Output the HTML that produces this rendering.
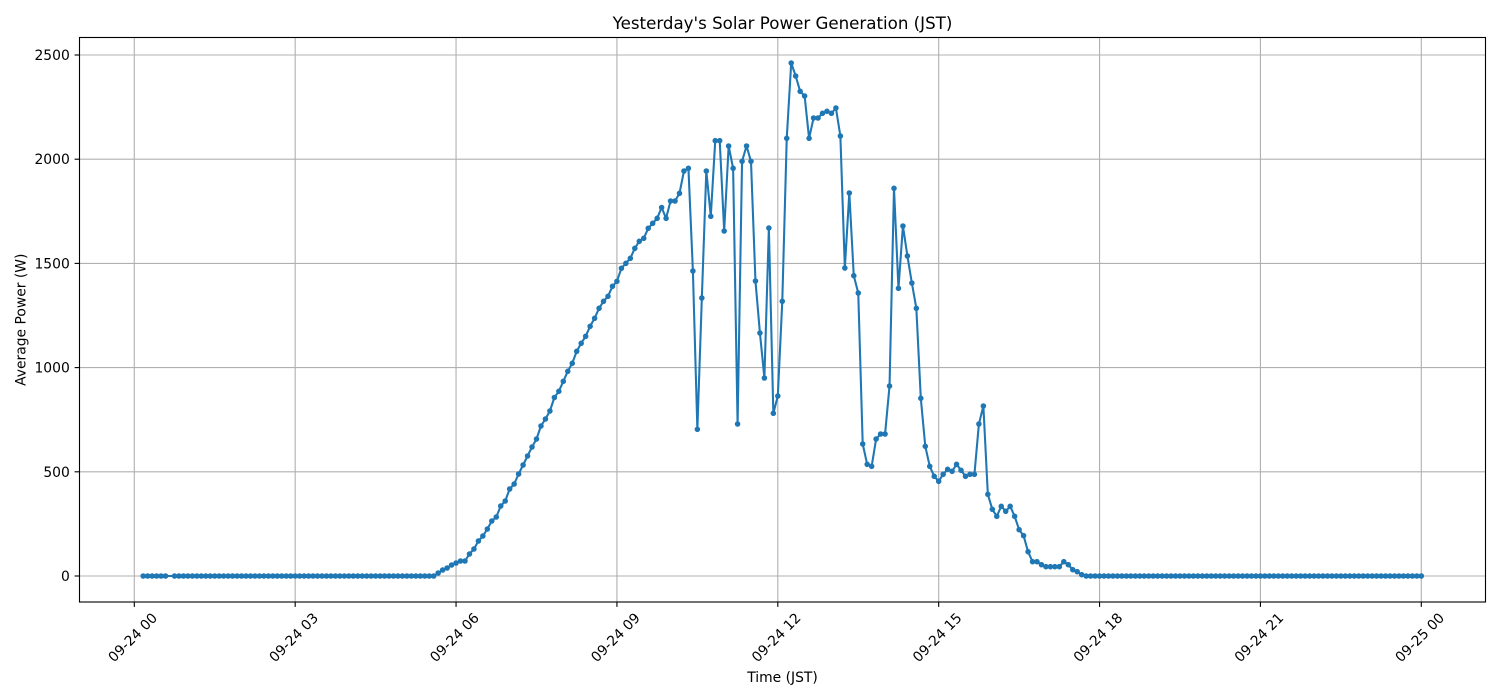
<!DOCTYPE html>
<html>
<head>
<meta charset="utf-8">
<style>
html,body{margin:0;padding:0;background:#fff;}
svg{display:block;}
text{font-family:"DejaVu Sans","Liberation Sans",sans-serif;fill:#000;}
</style>
</head>
<body>
<svg width="1500" height="700" viewBox="0 0 1500 700" xmlns="http://www.w3.org/2000/svg">
<defs>
<marker id="m" markerUnits="userSpaceOnUse" markerWidth="8" markerHeight="8" refX="4" refY="4" viewBox="0 0 8 8" overflow="visible">
<circle cx="4" cy="4" r="2.08" fill="#1f77b4" stroke="#1f77b4" stroke-width="1.39"/>
</marker>
</defs>
<rect x="0" y="0" width="1500" height="700" fill="#fff"/>
<rect x="79.5" y="37.5" width="1406" height="564.5" fill="#fff"/>

<!-- grid -->
<g stroke="#b0b0b0" stroke-width="1.11" fill="none">
<line x1="134.3" y1="37.5" x2="134.3" y2="602"/>
<line x1="295.18" y1="37.5" x2="295.18" y2="602"/>
<line x1="456.05" y1="37.5" x2="456.05" y2="602"/>
<line x1="616.93" y1="37.5" x2="616.93" y2="602"/>
<line x1="777.8" y1="37.5" x2="777.8" y2="602"/>
<line x1="938.68" y1="37.5" x2="938.68" y2="602"/>
<line x1="1099.55" y1="37.5" x2="1099.55" y2="602"/>
<line x1="1260.43" y1="37.5" x2="1260.43" y2="602"/>
<line x1="1421.3" y1="37.5" x2="1421.3" y2="602"/>
<line x1="79.5" y1="576" x2="1485.5" y2="576"/>
<line x1="79.5" y1="471.8" x2="1485.5" y2="471.8"/>
<line x1="79.5" y1="367.6" x2="1485.5" y2="367.6"/>
<line x1="79.5" y1="263.4" x2="1485.5" y2="263.4"/>
<line x1="79.5" y1="159.2" x2="1485.5" y2="159.2"/>
<line x1="79.5" y1="55" x2="1485.5" y2="55"/>
</g>

<!-- data line -->
<polyline fill="none" stroke="#1f77b4" stroke-width="2.08" stroke-linejoin="round" stroke-linecap="round" points="143.2,576 433.71,576 438.18,573 442.65,570 447.12,568 451.58,565 456.05,563 460.52,561 464.99,561 469.46,554 473.93,549 478.40,541 482.87,536 487.34,529 491.80,521 496.27,517 500.74,506 505.21,501 509.68,489 514.15,484 518.62,474 523.09,465 527.55,456 532.02,447 536.49,439 540.96,426 545.43,419 549.90,411 554.37,397.5 558.84,391.3 563.30,381.3 567.77,371.3 572.24,363.3 576.71,351.3 581.18,343.3 585.65,336.3 590.12,326.3 594.59,318.3 599.06,308.3 603.52,301.3 607.99,296.3 612.46,286.3 616.93,281.3 621.40,268.3 625.87,263.3 630.34,258.3 634.81,248.3 639.27,241.3 643.74,238.3 648.21,228.3 652.68,223.3 657.15,218.3 661.62,207.5 666.09,218.3 670.56,201 675.02,201 679.49,193.3 683.96,171 688.43,168.3 692.90,271 697.37,429.3 701.84,298 706.31,171 710.78,216.3 715.24,140.7 719.71,140.7 724.18,231 728.65,146 733.12,168.3 737.59,424 742.06,161.3 746.53,146 750.99,161.3 755.46,281 759.93,333 764.40,378 768.87,228 773.34,413.3 777.81,396 782.28,301.3 786.74,138.3 791.21,63 795.68,76 800.15,91.3 804.62,96 809.09,138.3 813.56,118 818.03,118 822.50,113.3 826.96,111.3 831.43,113.3 835.90,108 840.37,136 844.84,268 849.31,193 853.78,275.7 858.25,293 862.71,444 867.18,464.3 871.65,466.3 876.12,439 880.59,434 885.06,434 889.53,386 894.00,188.3 898.46,288.3 902.93,226 907.40,256 911.87,283 916.34,308.3 920.81,398.3 925.28,446.3 929.75,466.3 934.22,476.3 938.68,481.3 943.15,474.3 947.62,469.3 952.09,471.3 956.56,464.3 961.03,470.3 965.50,476.3 969.97,474.3 974.43,474.3 978.90,424 983.37,406 987.84,494.3 992.31,509.3 996.78,516.3 1001.25,506.3 1005.72,511.3 1010.18,506.3 1014.65,516.3 1019.12,529.7 1023.59,535.7 1028.06,551.7 1032.53,561.7 1037.00,561.7 1041.47,564.7 1045.94,566.7 1050.40,566.7 1054.87,566.7 1059.34,566.7 1063.81,561.7 1068.28,564.7 1072.75,569.7 1077.22,571.7 1081.69,574.7 1086.15,576 1421.3,576"/>

<!-- markers for active region -->
<polyline fill="none" stroke="none" marker-start="url(#m)" marker-mid="url(#m)" marker-end="url(#m)" points="438.18,573 442.65,570 447.12,568 451.58,565 456.05,563 460.52,561 464.99,561 469.46,554 473.93,549 478.40,541 482.87,536 487.34,529 491.80,521 496.27,517 500.74,506 505.21,501 509.68,489 514.15,484 518.62,474 523.09,465 527.55,456 532.02,447 536.49,439 540.96,426 545.43,419 549.90,411 554.37,397.5 558.84,391.3 563.30,381.3 567.77,371.3 572.24,363.3 576.71,351.3 581.18,343.3 585.65,336.3 590.12,326.3 594.59,318.3 599.06,308.3 603.52,301.3 607.99,296.3 612.46,286.3 616.93,281.3 621.40,268.3 625.87,263.3 630.34,258.3 634.81,248.3 639.27,241.3 643.74,238.3 648.21,228.3 652.68,223.3 657.15,218.3 661.62,207.5 666.09,218.3 670.56,201 675.02,201 679.49,193.3 683.96,171 688.43,168.3 692.90,271 697.37,429.3 701.84,298 706.31,171 710.78,216.3 715.24,140.7 719.71,140.7 724.18,231 728.65,146 733.12,168.3 737.59,424 742.06,161.3 746.53,146 750.99,161.3 755.46,281 759.93,333 764.40,378 768.87,228 773.34,413.3 777.81,396 782.28,301.3 786.74,138.3 791.21,63 795.68,76 800.15,91.3 804.62,96 809.09,138.3 813.56,118 818.03,118 822.50,113.3 826.96,111.3 831.43,113.3 835.90,108 840.37,136 844.84,268 849.31,193 853.78,275.7 858.25,293 862.71,444 867.18,464.3 871.65,466.3 876.12,439 880.59,434 885.06,434 889.53,386 894.00,188.3 898.46,288.3 902.93,226 907.40,256 911.87,283 916.34,308.3 920.81,398.3 925.28,446.3 929.75,466.3 934.22,476.3 938.68,481.3 943.15,474.3 947.62,469.3 952.09,471.3 956.56,464.3 961.03,470.3 965.50,476.3 969.97,474.3 974.43,474.3 978.90,424 983.37,406 987.84,494.3 992.31,509.3 996.78,516.3 1001.25,506.3 1005.72,511.3 1010.18,506.3 1014.65,516.3 1019.12,529.7 1023.59,535.7 1028.06,551.7 1032.53,561.7 1037.00,561.7 1041.47,564.7 1045.94,566.7 1050.40,566.7 1054.87,566.7 1059.34,566.7 1063.81,561.7 1068.28,564.7 1072.75,569.7 1077.22,571.7 1081.69,574.7"/>

<!-- markers for zero runs (dotted) -->
<g stroke="#1f77b4" stroke-width="5.55" stroke-linecap="round" stroke-dasharray="0 4.4688" fill="none">
<line x1="143.2" y1="576" x2="165.74" y2="576"/>
<line x1="174.52" y1="576" x2="433.91" y2="576"/>
<line x1="1086.15" y1="576" x2="1421.5" y2="576"/>
</g>

<!-- spines -->
<rect x="79.5" y="37.5" width="1406" height="564.5" fill="none" stroke="#000" stroke-width="1.11"/>

<!-- ticks -->
<g stroke="#000" stroke-width="1.11">
<line x1="134.3" y1="602" x2="134.3" y2="606.9"/>
<line x1="295.18" y1="602" x2="295.18" y2="606.9"/>
<line x1="456.05" y1="602" x2="456.05" y2="606.9"/>
<line x1="616.93" y1="602" x2="616.93" y2="606.9"/>
<line x1="777.8" y1="602" x2="777.8" y2="606.9"/>
<line x1="938.68" y1="602" x2="938.68" y2="606.9"/>
<line x1="1099.55" y1="602" x2="1099.55" y2="606.9"/>
<line x1="1260.43" y1="602" x2="1260.43" y2="606.9"/>
<line x1="1421.3" y1="602" x2="1421.3" y2="606.9"/>
<line x1="74.6" y1="576" x2="79.5" y2="576"/>
<line x1="74.6" y1="471.8" x2="79.5" y2="471.8"/>
<line x1="74.6" y1="367.6" x2="79.5" y2="367.6"/>
<line x1="74.6" y1="263.4" x2="79.5" y2="263.4"/>
<line x1="74.6" y1="159.2" x2="79.5" y2="159.2"/>
<line x1="74.6" y1="55" x2="79.5" y2="55"/>
</g>

<!-- y tick labels -->
<g font-size="13.89" text-anchor="end">
<text x="69.8" y="581">0</text>
<text x="69.8" y="476.8">500</text>
<text x="69.8" y="372.6">1000</text>
<text x="69.8" y="268.4">1500</text>
<text x="69.8" y="164.2">2000</text>
<text x="69.8" y="60">2500</text>
</g>

<!-- x tick labels -->
<g font-size="13.89" text-anchor="middle" dominant-baseline="central">
<text x="133.3" y="638" transform="rotate(-45 133.3 638)">09-24 00</text>
<text x="294.18" y="638" transform="rotate(-45 294.18 638)">09-24 03</text>
<text x="455.05" y="638" transform="rotate(-45 455.05 638)">09-24 06</text>
<text x="615.93" y="638" transform="rotate(-45 615.93 638)">09-24 09</text>
<text x="776.8" y="638" transform="rotate(-45 776.8 638)">09-24 12</text>
<text x="937.68" y="638" transform="rotate(-45 937.68 638)">09-24 15</text>
<text x="1098.55" y="638" transform="rotate(-45 1098.55 638)">09-24 18</text>
<text x="1259.43" y="638" transform="rotate(-45 1259.43 638)">09-24 21</text>
<text x="1420.3" y="638" transform="rotate(-45 1420.3 638)">09-25 00</text>
</g>

<!-- titles -->
<text x="782.5" y="29.2" font-size="16.67" text-anchor="middle">Yesterday's Solar Power Generation (JST)</text>
<text x="782.5" y="682" font-size="13.89" text-anchor="middle">Time (JST)</text>
<text x="25.7" y="319.75" font-size="13.89" text-anchor="middle" transform="rotate(-90 25.7 319.75)">Average Power (W)</text>
</svg>
</body>
</html>
